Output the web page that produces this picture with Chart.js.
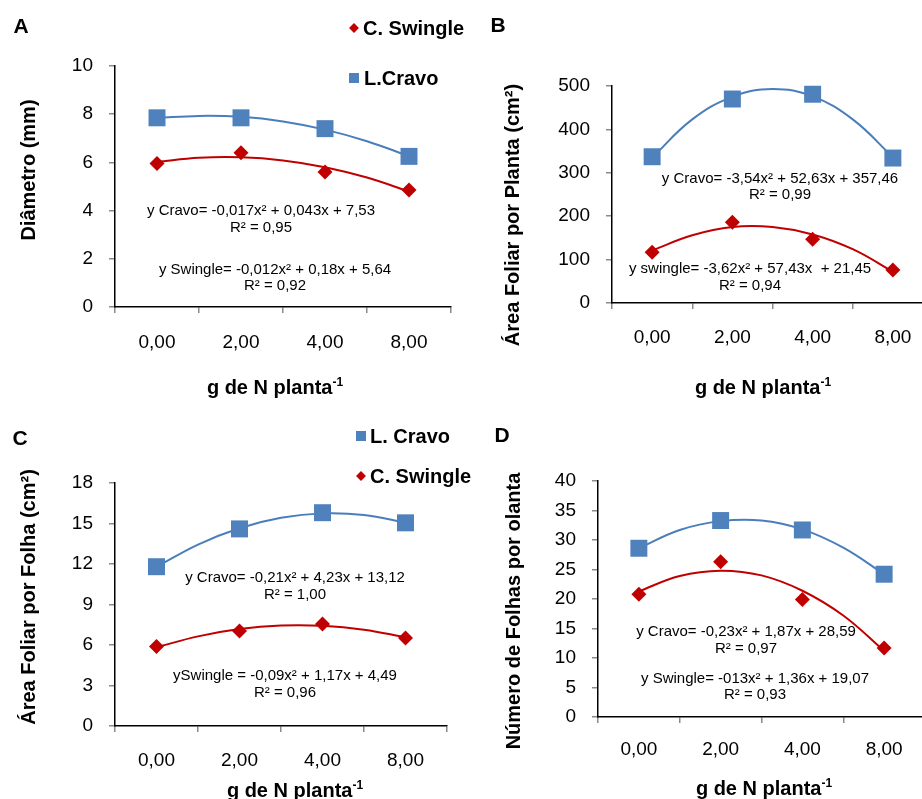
<!DOCTYPE html>
<html><head><meta charset="utf-8">
<script src="https://cdn.jsdelivr.net/npm/chart.js@4.4.0/dist/chart.umd.min.js"></script>
<style>
html,body{margin:0;padding:0;background:#fff;overflow:hidden;width:922px;height:799px;}
#wrap{position:relative;width:922px;height:799px;overflow:hidden;font-family:'Liberation Sans',Arial,sans-serif;color:#000;}
canvas{position:absolute;}
.t{position:absolute;white-space:nowrap;line-height:1;transform:translate(-50%,-50%);}
.eq{font-size:15px;}
.ax{font-size:20px;font-weight:bold;}
.yt{transform:translate(-50%,-50%) rotate(-90deg);}
.let{font-size:21px;font-weight:bold;}
.lg{position:absolute;font-size:20px;font-weight:bold;line-height:1;transform:translateY(-50%);white-space:nowrap;}
.sq{position:absolute;width:10px;height:10px;background:#4F81BD;transform:translate(-50%,-50%);}
.dm{position:absolute;width:7px;height:7px;background:#C00000;transform:translate(-50%,-50%) rotate(45deg);}
sup{font-size:12px;line-height:0;vertical-align:8px;}
</style>
</head><body>
<div id="wrap">
<canvas id="cA" width="460" height="400" style="left:0;top:0"></canvas>
<canvas id="cB" width="480" height="400" style="left:460px;top:0"></canvas>
<canvas id="cC" width="460" height="399" style="left:0;top:400px"></canvas>
<canvas id="cD" width="480" height="399" style="left:460px;top:400px"></canvas>

<div class="t let" style="left:21px;top:25px">A</div>
<div class="t let" style="left:498px;top:24px">B</div>
<div class="t let" style="left:20px;top:437px">C</div>
<div class="t let" style="left:502px;top:434px">D</div>

<div class="dm" style="left:354px;top:28px"></div><div class="lg" style="left:363px;top:28px">C. Swingle</div>
<div class="sq" style="left:354px;top:78px"></div><div class="lg" style="left:364px;top:78px">L.Cravo</div>
<div class="sq" style="left:361px;top:436px"></div><div class="lg" style="left:370px;top:436px">L. Cravo</div>
<div class="dm" style="left:361px;top:476px"></div><div class="lg" style="left:370px;top:476px">C. Swingle</div>

<div class="t ax yt" style="left:28px;top:170px">Diâmetro (mm)</div>
<div class="t ax yt" style="left:512px;top:215px">Área Foliar por Planta (cm²)</div>
<div class="t ax yt" style="left:28px;top:597px">Área Foliar por Folha (cm²)</div>
<div class="t ax yt" style="left:513px;top:611px">Número de Folhas por olanta</div>

<div class="t ax" style="left:275px;top:387px">g de N planta<sup>-1</sup></div>
<div class="t ax" style="left:763px;top:387px">g de N planta<sup>-1</sup></div>
<div class="t ax" style="left:295px;top:790px">g de N planta<sup>-1</sup></div>
<div class="t ax" style="left:764px;top:788px">g de N planta<sup>-1</sup></div>

<div class="t eq" style="left:261px;top:209px">y Cravo= -0,017x² + 0,043x + 7,53</div>
<div class="t eq" style="left:261px;top:226px">R² = 0,95</div>
<div class="t eq" style="left:275px;top:268px">y Swingle= -0,012x² + 0,18x + 5,64</div>
<div class="t eq" style="left:275px;top:284px">R² = 0,92</div>

<div class="t eq" style="left:780px;top:177px">y Cravo= -3,54x² + 52,63x + 357,46</div>
<div class="t eq" style="left:780px;top:193px">R² = 0,99</div>
<div class="t eq" style="left:750px;top:267px">y swingle= -3,62x² + 57,43x&nbsp;&nbsp;+ 21,45</div>
<div class="t eq" style="left:750px;top:284px">R² = 0,94</div>

<div class="t eq" style="left:295px;top:576px">y Cravo= -0,21x² + 4,23x + 13,12</div>
<div class="t eq" style="left:295px;top:593px">R² = 1,00</div>
<div class="t eq" style="left:285px;top:674px">ySwingle = -0,09x² + 1,17x + 4,49</div>
<div class="t eq" style="left:285px;top:691px">R² = 0,96</div>

<div class="t eq" style="left:746px;top:630px">y Cravo= -0,23x² + 1,87x + 28,59</div>
<div class="t eq" style="left:746px;top:647px">R² = 0,97</div>
<div class="t eq" style="left:755px;top:677px">y Swingle= -013x² + 1,36x + 19,07</div>
<div class="t eq" style="left:755px;top:693px">R² = 0,93</div>
</div>
<script>
const categories = ['0,00', '2,00', '4,00', '8,00'];
const xPos = [1, 2, 3, 4];
const trendX = [1, 1.5, 2, 2.5, 3, 3.5, 4];

// A: Diâmetro (mm)
const diamCravo = [7.85, 7.85, 7.4, 6.25];
const diamSwingle = [5.95, 6.4, 5.6, 4.85];
const diamCravoTrend = [7.84, 7.93, 7.89, 7.70, 7.36, 6.88, 6.26];
const diamSwingleTrend = [6.02, 6.19, 6.21, 6.08, 5.80, 5.37, 4.79];
const yTicksA = [0, 2, 4, 6, 8, 10];

// B: Área Foliar por Planta (cm²)
const afpCravo = [337, 470, 481, 334];
const afpSwingle = [117, 186, 147, 76];
const afpCravoTrend = [335, 423, 475, 493, 476, 423, 336];
const afpSwingleTrend = [121, 156, 175, 175, 158, 124, 72];
const yTicksB = [0, 100, 200, 300, 400, 500];

// C: Área Foliar por Folha (cm²)
const affCravo = [11.8, 14.6, 15.8, 15.05];
const affSwingle = [5.88, 7.04, 7.56, 6.52];
const affCravoTrend = [11.78, 13.44, 14.65, 15.42, 15.75, 15.63, 15.07];
const affSwingleTrend = [5.83, 6.64, 7.18, 7.44, 7.42, 7.13, 6.57];
const yTicksC = [0, 3, 6, 9, 12, 15, 18];

// D: Número de Folhas por planta
const nfCravo = [28.6, 33.3, 31.7, 24.2];
const nfSwingle = [20.8, 26.3, 19.9, 11.7];
const nfCravoTrend = [28.6, 31.7, 33.2, 33.3, 31.8, 28.7, 24.2];
const nfSwingleTrend = [21.3, 23.9, 24.8, 24.0, 21.4, 17.2, 11.2];
const yTicksD = [0, 5, 10, 15, 20, 25, 30, 35, 40];

const BLUE = '#4F81BD', BLUE_L = '#4A7EBB', RED = '#C00000';
const FONT = "'Liberation Sans', Arial, sans-serif";
const xTickVals = [0.5, 1, 1.5, 2, 2.5, 3, 3.5, 4, 4.5];

function pts(xs, ys) { return ys.map((v, i) => ({ x: xs[i], y: v })); }

function makeChart(id, p) {
  new Chart(document.getElementById(id), {
    type: 'scatter',
    data: { datasets: [
      { data: pts(xPos, p.cravo), pointStyle: 'rect', pointRadius: 12, pointHoverRadius: 12,
        pointBackgroundColor: BLUE, pointBorderWidth: 0, pointBorderColor: BLUE, showLine: false, order: 1, clip: false },
      { data: pts(xPos, p.swingle), pointStyle: 'rectRot', pointRadius: 7.5, pointHoverRadius: 7.5,
        pointBackgroundColor: RED, pointBorderWidth: 0, pointBorderColor: RED, showLine: false, order: 1, clip: false },
      { data: pts(trendX, p.cravoTrend), showLine: true, pointRadius: 0, borderColor: BLUE_L, borderWidth: 2,
        tension: 0.4, fill: false, order: 2 },
      { data: pts(trendX, p.swingleTrend), showLine: true, pointRadius: 0, borderColor: RED, borderWidth: 2,
        tension: 0.4, fill: false, order: 2 }
    ] },
    options: {
      responsive: false, animation: false, events: [],
      layout: { autoPadding: false, padding: { top: p.top, right: p.right, left: 0, bottom: 0 } },
      plugins: { legend: { display: false }, tooltip: { enabled: false } },
      scales: {
        x: {
          type: 'linear', min: 0.5, max: 4.5,
          afterBuildTicks: s => { s.ticks = xTickVals.map(v => ({ value: v })); },
          afterFit: s => { s.height = p.xh; s.paddingLeft = 0; s.paddingRight = 0; },
          ticks: { autoSkip: false, maxRotation: 0, minRotation: 0, padding: p.xpad, color: '#000',
            font: { size: 19, family: FONT },
            callback: v => Number.isInteger(v) ? categories[v - 1] : '' },
          grid: { drawOnChartArea: false, drawTicks: true, tickLength: 6, lineWidth: 1.5,
            color: c => (c.tick && Number.isInteger(c.tick.value)) ? 'rgba(0,0,0,0)' : '#8a8a8a' },
          border: { display: true, color: '#000', width: 1.5 }
        },
        y: {
          type: 'linear', min: p.yTicks[0], max: p.yTicks[p.yTicks.length - 1],
          afterBuildTicks: s => { s.ticks = p.yTicks.map(v => ({ value: v })); },
          afterFit: s => { s.width = p.yw; },
          ticks: { padding: 16, color: '#000', font: { size: 19, family: FONT }, callback: v => String(v) },
          grid: { drawOnChartArea: false, drawTicks: true, tickLength: 6, lineWidth: 1.5, color: '#8a8a8a' },
          border: { display: true, color: '#000', width: 1.5 }
        }
      }
    }
  });
}

makeChart('cA', { cravo: diamCravo, swingle: diamSwingle, cravoTrend: diamCravoTrend, swingleTrend: diamSwingleTrend,
  yTicks: yTicksA, top: 66, right: 9, yw: 115, xh: 93, xpad: 18 });
makeChart('cB', { cravo: afpCravo, swingle: afpSwingle, cravoTrend: afpCravoTrend, swingleTrend: afpSwingleTrend,
  yTicks: yTicksB, top: 86, right: 7, yw: 152, xh: 97, xpad: 17 });
makeChart('cC', { cravo: affCravo, swingle: affSwingle, cravoTrend: affCravoTrend, swingleTrend: affSwingleTrend,
  yTicks: yTicksC, top: 83, right: 13, yw: 115, xh: 73, xpad: 17 });
makeChart('cD', { cravo: nfCravo, swingle: nfSwingle, cravoTrend: nfCravoTrend, swingleTrend: nfSwingleTrend,
  yTicks: yTicksD, top: 81, right: 15, yw: 138, xh: 82, xpad: 15 });
</script>
</body></html>
